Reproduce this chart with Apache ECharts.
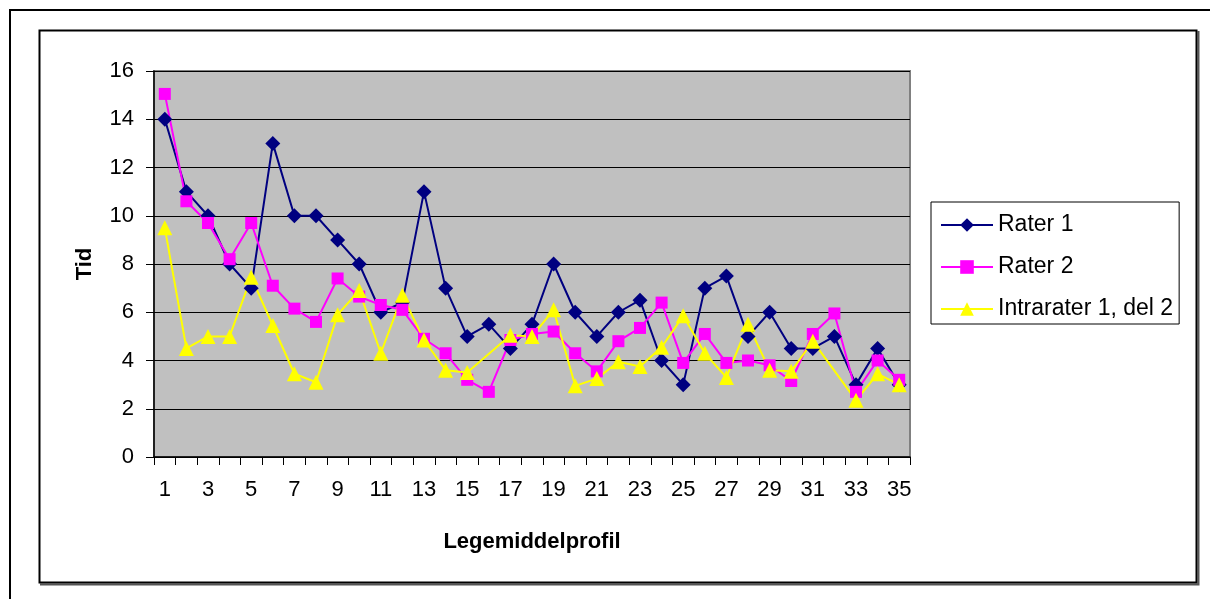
<!DOCTYPE html>
<html>
<head>
<meta charset="utf-8">
<script src="https://cdn.jsdelivr.net/npm/echarts@6/dist/echarts.min.js"></script>
<style>
  html, body { margin: 0; padding: 0; background: #fff; }
  #chart { width: 1210px; height: 599px; }
</style>
</head>
<body>
<div id="chart"></div>
<script>
var categories = []
for (var i = 1; i <= 35; i++) categories.push(String(i))

var rater1 = [14, 11, 10, 8, 7, 13, 10, 10, 9, 8, 6, 6.4, 11, 7, 5, 5.5, 4.5, 5.5, 8, 6,
  5, 6, 6.5, 4, 3, 7, 7.5, 5, 6, 4.5, 4.5, 5, 3, 4.5, 3]
var rater2 = [15.05, 10.6, 9.7, 8.2, 9.7, 7.1, 6.15, 5.6, 7.4, 6.65, 6.3, 6.1, 4.9, 4.3, 3.2, 2.7, 4.85, 5.1, 5.2, 4.3,
  3.55, 4.8, 5.35, 6.4, 3.9, 5.1, 3.9, 4.0, 3.8, 3.15, 5.1, 5.95, 2.7, 4.0, 3.2]
var intra = [9.5, 4.5, 5, 5, 7.45, 5.45, 3.45, 3.1, 5.9, 6.9, 4.3, 6.7, 4.85, 3.6, 3.5, null, 5.05, 5.0, 6.1, 2.95,
  3.25, 3.95, 3.75, 4.55, 5.85, 4.3, 3.3, 5.5, 3.6, 3.55, 4.8, null, 2.35, 3.45, 3.0]

var font = 'Liberation Sans, Arial, sans-serif'
var chart = echarts.init(document.getElementById('chart'))

var option = {
  animation: false,
  backgroundColor: '#fff',
  textStyle: { fontFamily: font },
  graphic: [
    { type: 'polyline', shape: { points: [[10, 599], [10, 10], [1210, 10]] },
      style: { stroke: '#000', lineWidth: 2, fill: null } },
    { type: 'polyline', shape: { points: [[1198.5, 31], [1198.5, 584.5], [40, 584.5]] },
      style: { stroke: '#555', lineWidth: 2, fill: null } },
    { type: 'rect', shape: { x: 39.5, y: 30.5, width: 1157, height: 552 },
      style: { stroke: '#000', lineWidth: 2, fill: null } }
  ],
  grid: {
    left: 154, right: 300, top: 71, bottom: 142,
    show: true, backgroundColor: '#C0C0C0', borderColor: '#808080', borderWidth: 2
  },
  legend: {
    orient: 'vertical',
    left: 931, top: 202,
    padding: [9, 6, 1, 9],
    borderColor: '#000', borderWidth: 1,
    itemWidth: 52, itemHeight: 17, itemGap: 14,
    textStyle: { fontSize: 23, lineHeight: 28, color: '#000', fontFamily: font },
    data: ['Rater 1', 'Rater 2', 'Intrarater 1, del 2']
  },
  xAxis: {
    type: 'category',
    data: categories,
    boundaryGap: true,
    name: 'Legemiddelprofil',
    nameLocation: 'middle',
    nameGap: 74,
    nameTextStyle: { fontSize: 22, fontWeight: 'bold', color: '#000', verticalAlign: 'top' },
    axisLine: { lineStyle: { color: '#000', width: 1.5 } },
    axisTick: { show: true, interval: 0, length: 8, lineStyle: { color: '#000' } },
    axisLabel: { interval: 1, fontSize: 22, color: '#000', margin: 22 },
    splitLine: { show: false }
  },
  yAxis: {
    type: 'value',
    min: 0, max: 16, interval: 2,
    name: 'Tid',
    nameLocation: 'middle',
    nameGap: 58,
    nameRotate: 90,
    nameTextStyle: { fontSize: 22, fontWeight: 'bold', color: '#000' },
    axisLine: { show: true, lineStyle: { color: '#000', width: 1.5 } },
    axisTick: { show: true, inside: false, length: 8, lineStyle: { color: '#000' } },
    axisLabel: { fontSize: 22, color: '#000', margin: 20 },
    splitLine: { show: true, lineStyle: { color: '#000', width: 1 } }
  },
  series: [
    {
      name: 'Rater 1', type: 'line', data: rater1, showAllSymbol: true,
      color: '#000080', symbol: 'diamond', symbolSize: 15,
      lineStyle: { width: 2 }, itemStyle: { color: '#000080' }
    },
    {
      name: 'Rater 2', type: 'line', data: rater2, showAllSymbol: true,
      color: '#FF00FF', symbol: 'rect', symbolSize: 12,
      lineStyle: { width: 2 }, itemStyle: { color: '#FF00FF' }
    },
    {
      name: 'Intrarater 1, del 2', type: 'line', data: intra, connectNulls: true, showAllSymbol: true,
      color: '#FFFF00', symbol: 'triangle', symbolSize: 15,
      lineStyle: { width: 2 }, itemStyle: { color: '#FFFF00' }
    }
  ]
}
chart.setOption(option)
</script>
</body>
</html>
